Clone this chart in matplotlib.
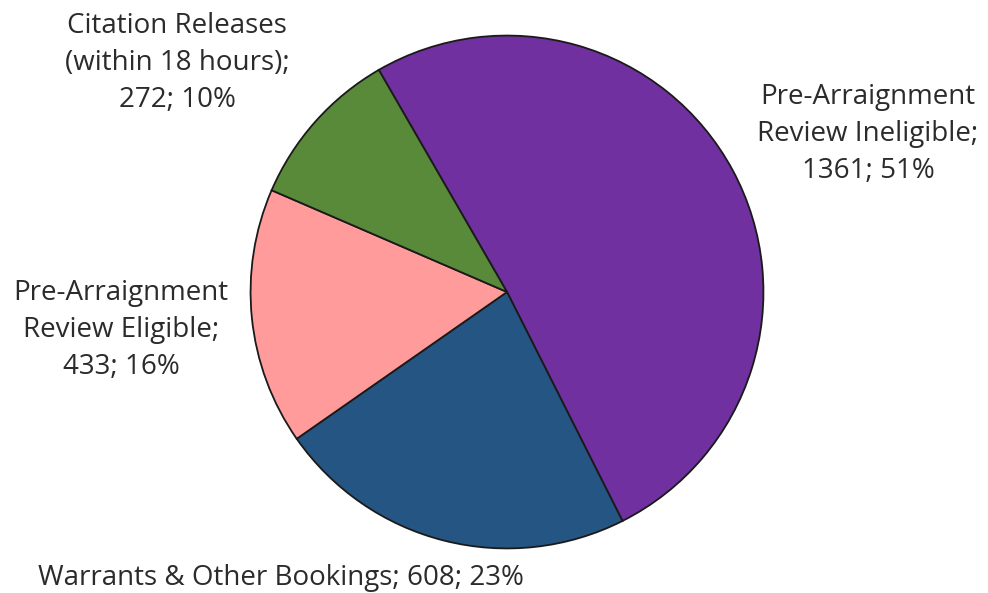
import matplotlib
matplotlib.use("Agg")
import matplotlib.pyplot as plt

categories = ["Pre-Arraignment\nReview Ineligible", "Warrants & Other Bookings",
              "Pre-Arraignment\nReview Eligible", "Citation Releases\n(within 18 hours)"]
values = [1361, 608, 433, 272]
percents = [51, 23, 16, 10]
colors = ["#7030A0", "#255582", "#FF9B9B", "#588A3A"]

W, H = 988, 593
fig = plt.figure(figsize=(W / 100, H / 100), dpi=100)
fig.patch.set_facecolor("white")

cx, cy, r = 507, 292, 259
ax = fig.add_axes([(cx - r) / W, (H - cy - r) / H, 2 * r / W, 2 * r / H])
ax.pie(values, colors=colors, startangle=120, counterclock=False, radius=1,
       wedgeprops=dict(edgecolor="#1a1a1a", linewidth=1.3))
ax.set_xlim(-1.01, 1.01)
ax.set_ylim(-1.01, 1.01)
ax.set_aspect("equal")
ax.axis("off")

labels = [f"{c}; {v}; {p}%" if "\n" not in c else f"{c};\n{v}; {p}%"
          for c, v, p in zip(categories, values, percents)]
label_pos = [(868, 134), (281, 578), (121, 330), (177, 63)]
for lab, (x, y) in zip(labels, label_pos):
    fig.text(x / W, 1 - y / H, lab, ha="center", va="center", fontsize=20,
             family=["Open Sans", "DejaVu Sans"], color="#2b2b2b", linespacing=1.42)

fig.savefig("out.png", dpi=100, facecolor="white")
